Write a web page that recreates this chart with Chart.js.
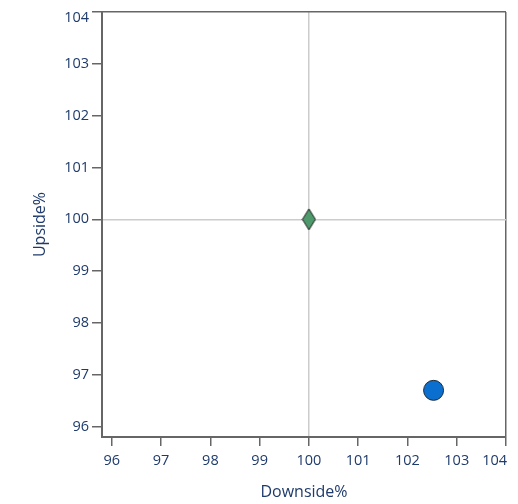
<!DOCTYPE html>
<html>
<head>
<meta charset="utf-8">
<script src="https://cdn.jsdelivr.net/npm/chart.js@4.4.1/dist/chart.umd.min.js"></script>
<style>
  html, body { margin: 0; padding: 0; background: #fff; }
  #wrap { width: 518px; height: 504px; }
</style>
</head>
<body>
<div id="wrap"><canvas id="chart"></canvas></div>
<script>
// data
const seriesNames = ['Benchmark', 'Fund'];
const downside = [100, 102.53];
const upside = [100, 96.7];
const tickValues = [96, 97, 98, 99, 100, 101, 102, 103, 104];

const labelColor = '#1f3b6b';
const axisColor = '#666666';
const tickFont = { family: "'Open Sans', sans-serif", size: 14.5 };
const titleFont = { family: "'Open Sans', sans-serif", size: 16 };

// tall diamond marker, the built-in rectRot is a square
function diamond(w, h, fill) {
    const c = document.createElement('canvas');
    c.width = w + 2; c.height = h + 2;
    const g = c.getContext('2d');
    g.beginPath();
    g.moveTo(c.width / 2, 1);
    g.lineTo(c.width - 1, c.height / 2);
    g.lineTo(c.width / 2, c.height - 1);
    g.lineTo(1, c.height / 2);
    g.closePath();
    g.fillStyle = fill;
    g.fill();
    g.lineWidth = 1;
    g.strokeStyle = '#1a1a1a';
    g.stroke();
    return c;
}

const gridColor = ctx => {
    if (ctx.tick.value === 100) return '#cccccc';
    if (ctx.tick.value === 104) return axisColor;
    return 'rgba(0,0,0,0)';
};

// the last label on each axis is pulled inside the frame, so it is drawn here
const edgeLabels = {
    id: 'edgeLabels',
    afterDraw(chart) {
        const { ctx, scales: { x, y } } = chart;
        const last = tickValues[tickValues.length - 1];
        ctx.save();
        ctx.fillStyle = labelColor;
        ctx.font = tickFont.size + 'px ' + tickFont.family;
        ctx.textAlign = 'right';
        ctx.textBaseline = 'middle';
        ctx.fillText(String(last), x.getPixelForValue(last) + 1, x.top + 9 + 6 + tickFont.size * 0.6);
        ctx.fillText(String(last), y.right - 10 - 3, y.getPixelForValue(last) + 5.5);
        ctx.restore();
    }
};

const hideLast = v => (v === tickValues[tickValues.length - 1] ? '' : String(v));

new Chart(document.getElementById('chart'), {
    type: 'scatter',
    data: {
        datasets: [
            {
                label: seriesNames[0],
                data: [{ x: downside[0], y: upside[0] }],
                pointStyle: diamond(13, 21, '#4f9a6c'),
                pointRadius: 11
            },
            {
                label: seriesNames[1],
                data: [{ x: downside[1], y: upside[1] }],
                backgroundColor: '#0b6fcf',
                borderColor: '#1a2a3a',
                borderWidth: 1,
                pointRadius: 10,
                pointHoverRadius: 10
            }
        ]
    },
    options: {
        responsive: true,
        maintainAspectRatio: false,
        animation: false,
        layout: { padding: { top: 12, right: 12, left: 0, bottom: 0 } },
        plugins: { legend: { display: false }, tooltip: { enabled: false } },
        scales: {
            x: {
                type: 'linear',
                min: 95.8, max: 104,
                afterBuildTicks: s => { s.ticks = tickValues.map(v => ({ value: v })); },
                afterFit: s => { s.height = 67; },
                grid: { color: gridColor, tickColor: axisColor, tickLength: 9, lineWidth: 1.5 },
                border: { color: axisColor, width: 2 },
                ticks: { color: labelColor, font: tickFont, padding: 6, maxRotation: 0, callback: hideLast },
                title: {
                    display: true, text: 'Downside%', color: labelColor,
                    font: titleFont, padding: { top: 0, bottom: 1.5 }
                }
            },
            y: {
                type: 'linear',
                min: 95.8, max: 104,
                afterBuildTicks: s => { s.ticks = tickValues.map(v => ({ value: v })); },
                afterFit: s => { s.width = 102; },
                grid: { color: gridColor, tickColor: axisColor, tickLength: 10, lineWidth: 1.5 },
                border: { color: axisColor, width: 2 },
                ticks: { color: labelColor, font: tickFont, padding: 3, callback: hideLast },
                title: {
                    display: true, text: 'Upside%', color: labelColor,
                    font: titleFont, padding: { top: 31, bottom: 0 }
                }
            }
        }
    },
    plugins: [edgeLabels]
});
</script>
</body>
</html>
